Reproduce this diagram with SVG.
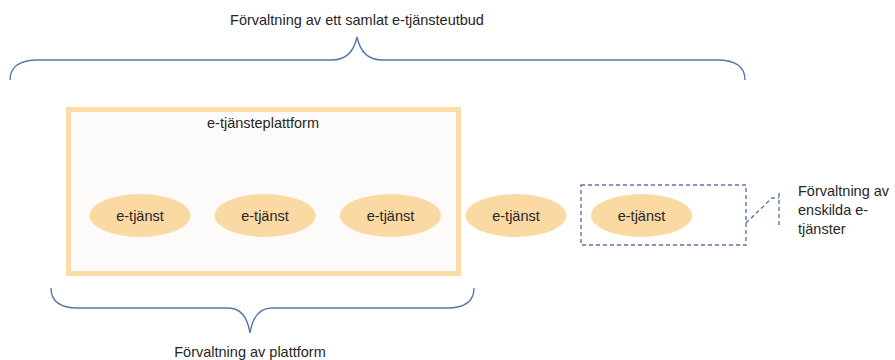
<svg xmlns="http://www.w3.org/2000/svg" width="895" height="360" viewBox="0 0 895 360">
  <style>
    .lbl { font-family: "Liberation Sans", Arial, sans-serif; font-size: 14.5px; fill: #262626; }
    .mid { text-anchor: middle; }
    .svc { fill: #FBD9A3; stroke: none; }
    .brace { fill: none; stroke: #5A77AD; stroke-width: 1.4; }
    .dash { fill: none; stroke: #5A77AD; stroke-width: 1.4; stroke-dasharray: 4 3; }
  </style>
  <rect width="895" height="360" fill="#FFFFFF"/>

  <!-- top brace: whole service offering -->
  <g id="top-brace">
    <text class="lbl mid" x="357" y="25">Förvaltning av ett samlat e-tjänsteutbud</text>
    <path class="brace" d="M10,80 Q10,60 38,60 L332,60 Q352,60 357,37 Q362,60 382,60 L717,60 Q745,60 745,80"/>
  </g>

  <!-- platform container -->
  <g id="platform">
    <rect x="68.5" y="109.5" width="390" height="164" fill="#FDFBF9" stroke="#FDDCAA" stroke-width="5"/>
    <text class="lbl mid" x="263" y="128">e-tjänsteplattform</text>
  </g>

  <g id="svc1">
    <ellipse class="svc" cx="140" cy="215.5" rx="50.5" ry="21.5"/>
    <text class="lbl mid" x="140" y="220.5">e-tjänst</text>
  </g>
  <g id="svc2">
    <ellipse class="svc" cx="265" cy="215.5" rx="50.5" ry="21.5"/>
    <text class="lbl mid" x="265" y="220.5">e-tjänst</text>
  </g>
  <g id="svc3">
    <ellipse class="svc" cx="390.5" cy="215.5" rx="50.5" ry="21.5"/>
    <text class="lbl mid" x="390.5" y="220.5">e-tjänst</text>
  </g>
  <g id="svc4">
    <ellipse class="svc" cx="516" cy="215.5" rx="50.5" ry="21.5"/>
    <text class="lbl mid" x="516" y="220.5">e-tjänst</text>
  </g>
  <g id="svc5">
    <rect class="dash" x="581" y="185" width="165" height="60"/>
    <ellipse class="svc" cx="641.5" cy="215.5" rx="50.5" ry="21.5"/>
    <text class="lbl mid" x="641.5" y="220.5">e-tjänst</text>
  </g>

  <!-- callout for individual services -->
  <g id="callout">
    <path class="dash" d="M746,223 L772,198 L779,198 M779,193 L779,228"/>
    <text class="lbl" x="798" y="196">Förvaltning av</text>
    <text class="lbl" x="798" y="215">enskilda e-</text>
    <text class="lbl" x="798" y="234">tjänster</text>
  </g>

  <!-- bottom brace: platform -->
  <g id="bottom-brace">
    <path class="brace" d="M51,288 Q51,308 78,308 L228,308 Q246,308 250,333 Q254,308 272,308 L447,308 Q474,308 474,288"/>
    <text class="lbl mid" x="250" y="357">Förvaltning av plattform</text>
  </g>
</svg>
